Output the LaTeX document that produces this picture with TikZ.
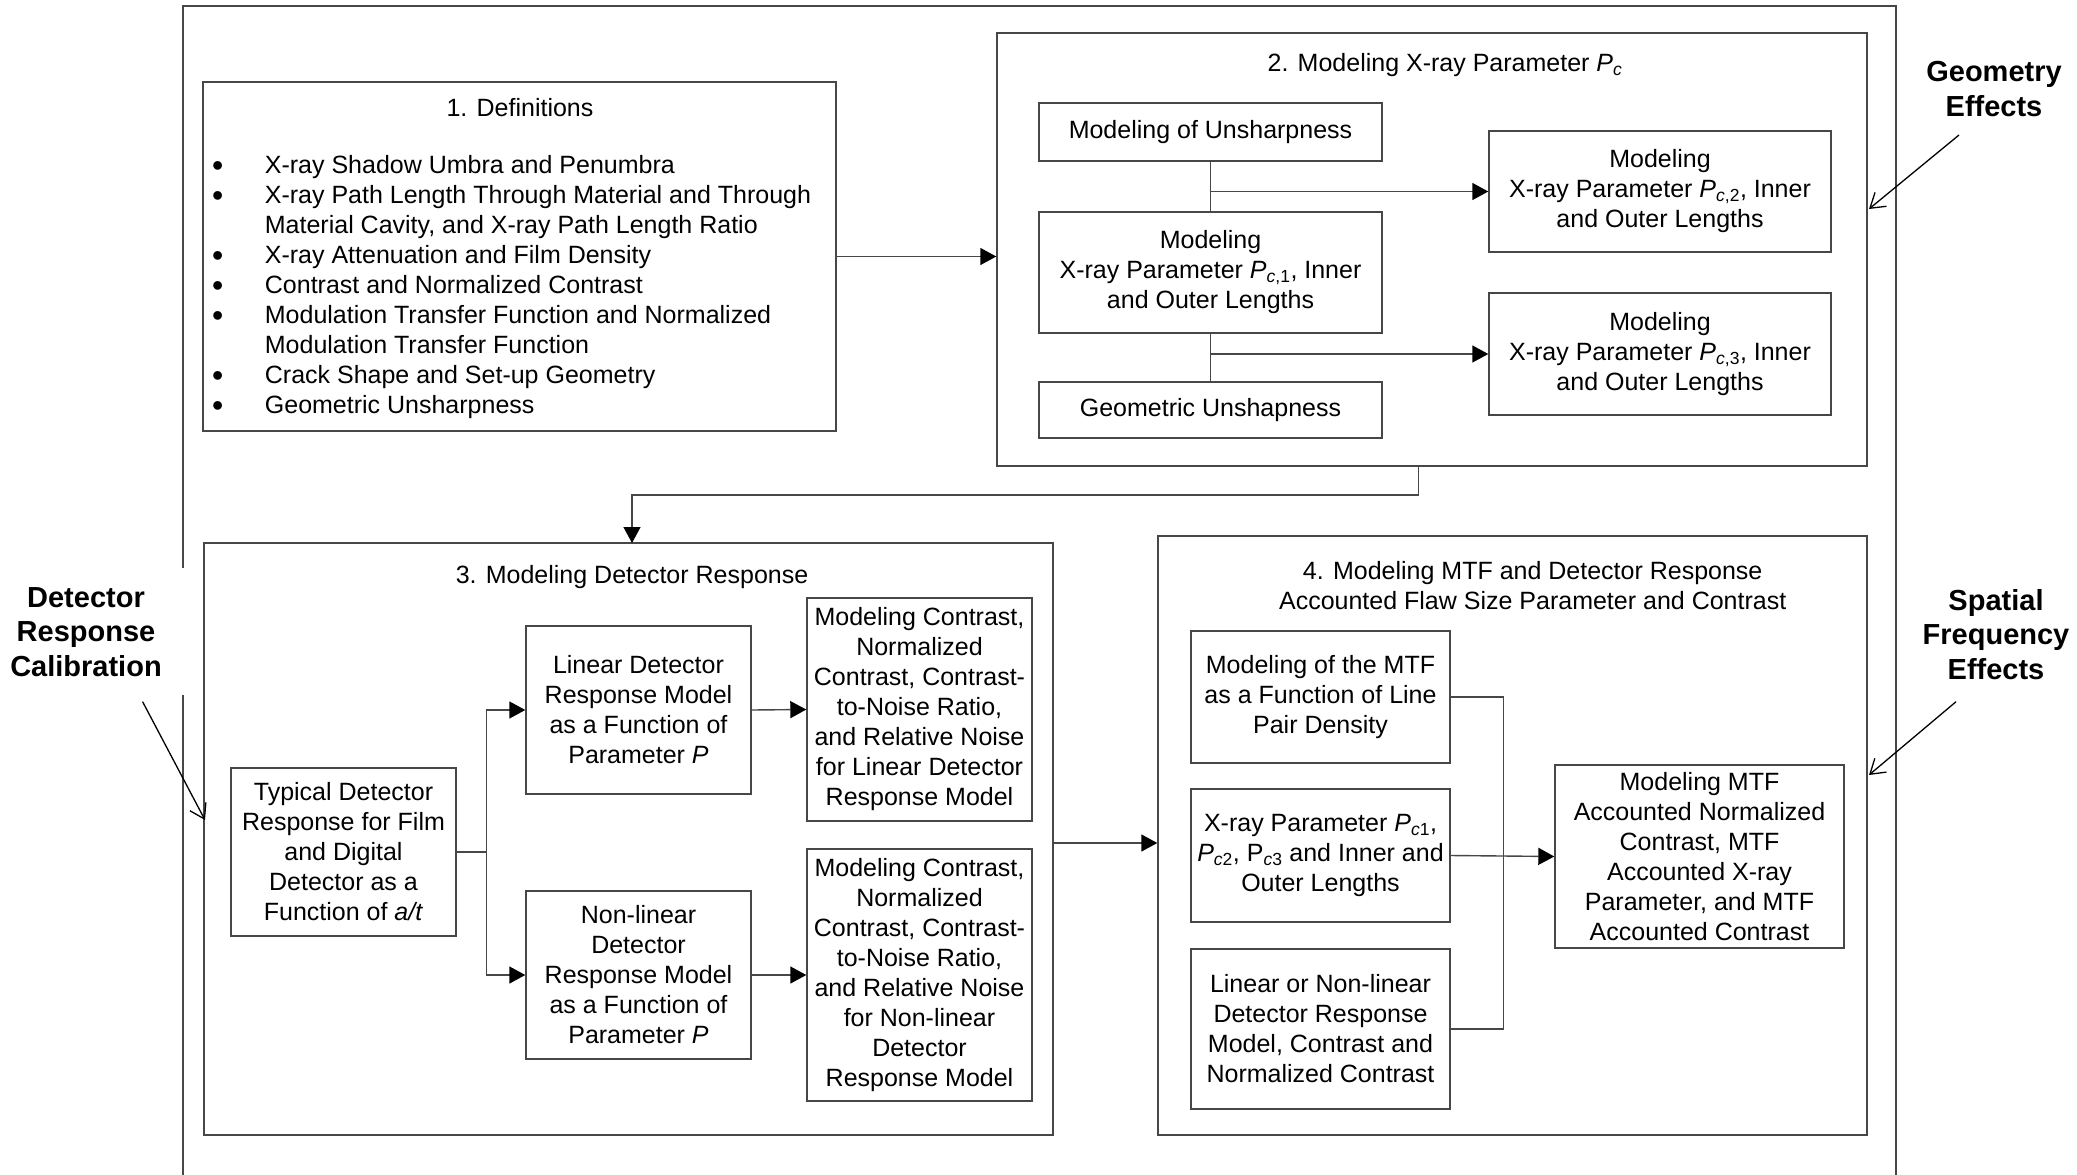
\documentclass[tikz,border=0pt]{standalone}
\usepackage{fontspec}
\setmainfont{Liberation Sans}
\usetikzlibrary{arrows.meta}
\newcommand{\bul}{\makebox[52.7pt][l]{\smash{\raisebox{-2.5pt}{\fontsize{32}{30}\selectfont •}}}}
\begin{document}
\begin{tikzpicture}[x=1pt,y=-1pt,
  ln/.style={line width=1.4pt, draw=black!72},
  box/.style={ln, rectangle, inner sep=0pt, align=center, font=\fontsize{25}{30}\selectfont},
  txt/.style={inner sep=0pt, align=center, font=\fontsize{25}{30}\selectfont},
  lab/.style={inner sep=0pt, align=center, font=\fontsize{29}{34.5}\selectfont\bfseries},
  arr/.style={ln, -{Triangle[length=16pt,width=17pt,color=black]}},
  thinarr/.style={line width=1.3pt, draw=black, -{Straight Barb[length=14pt,width=18pt]}}
]
\useasboundingbox (0,0) rectangle (2077,1175);
\fill[white] (0,0) rectangle (2077,1175);

% outer frame (open at the bottom, interrupted by the left label)
\draw[ln] (183,1175) -- (183,695);
\draw[ln] (183,568) -- (183,6) -- (1896,6) -- (1896,1175);

% ---------- 1. Definitions ----------
\node[box, minimum width=633pt, minimum height=349pt] (box1) at (519.5,256.5) {};
\node[txt] (title1) at (520,107.5) {1. Definitions};
\node[txt, align=left, anchor=west] (defs) at (212,287.5) {%
\bul X-ray Shadow Umbra and Penumbra\\
\bul X-ray Path Length Through Material and Through\\
\hspace*{52.7pt}Material Cavity, and X-ray Path Length Ratio\\
\bul X-ray Attenuation and Film Density\\
\bul Contrast and Normalized Contrast\\
\bul Modulation Transfer Function and Normalized\\
\hspace*{52.7pt}Modulation Transfer Function\\
\bul Crack Shape and Set-up Geometry\\
\bul Geometric Unsharpness};

% ---------- 2. Modeling X-ray Parameter Pc ----------
\node[box, minimum width=870pt, minimum height=433pt] (box2) at (1432,249.5) {};
\node[txt] (title2) at (1445,65) {2. Modeling X-ray Parameter \textit{P}\textsubscript{\textit{c}}};
\node[box, minimum width=343pt, minimum height=58pt] (unsharp) at (1210.5,132) {Modeling of Unsharpness};
\node[box, minimum width=343pt, minimum height=121pt] (pc1) at (1210.5,272.5) {Modeling\\X-ray Parameter \textit{P}\textsubscript{\textit{c},1}, Inner\\and Outer Lengths};
\node[box, minimum width=343pt, minimum height=56pt] (geo) at (1210.5,410) {Geometric Unshapness};
\node[box, minimum width=342pt, minimum height=121pt] (pc2) at (1660,191.5) {Modeling\\X-ray Parameter \textit{P}\textsubscript{\textit{c},2}, Inner\\and Outer Lengths};
\node[box, minimum width=342pt, minimum height=122pt] (pc3) at (1660,354) {Modeling\\X-ray Parameter \textit{P}\textsubscript{\textit{c},3}, Inner\\and Outer Lengths};

\draw[ln] (unsharp.south) -- (pc1.north);
\draw[ln] (pc1.south) -- (geo.north);
\draw[arr] (pc2.west -| unsharp.south) -- (pc2.west);
\draw[arr] (pc3.west -| pc1.south) -- (pc3.west);

% ---------- 3. Modeling Detector Response ----------
\node[box, minimum width=849pt, minimum height=592pt] (box3) at (628.5,839) {};
\node[txt] (title3) at (632,577) {3. Modeling Detector Response};
\node[box, minimum width=225pt, minimum height=168pt] (typ) at (343.5,852) {Typical Detector\\Response for Film\\and Digital\\Detector as a\\Function of \textit{a/t}};
\node[box, minimum width=225pt, minimum height=168pt] (lin) at (638.5,710) {Linear Detector\\Response Model\\as a Function of\\Parameter \textit{P}};
\node[box, minimum width=225pt, minimum height=168pt] (nonlin) at (638.5,975) {Non-linear\\Detector\\Response Model\\as a Function of\\Parameter \textit{P}};
\node[box, minimum width=225pt, minimum height=223pt] (mc1) at (919.5,709.5) {Modeling Contrast,\\Normalized\\Contrast, Contrast-\\to-Noise Ratio,\\and Relative Noise\\for Linear Detector\\Response Model};
\node[box, minimum width=225pt, minimum height=252pt] (mc2) at (919.5,975) {Modeling Contrast,\\Normalized\\Contrast, Contrast-\\to-Noise Ratio,\\and Relative Noise\\for Non-linear\\Detector\\Response Model};

\draw[arr] (typ.east) -- ++(30,0) |- (lin.west);
\draw[arr] (typ.east) -- ++(30,0) |- (nonlin.west);
\draw[arr] (lin.east) -- (mc1.west);
\draw[arr] (nonlin.east) -- (mc2.west);

% ---------- 4. Modeling MTF ----------
\node[box, minimum width=709pt, minimum height=599pt] (box4) at (1512.5,835.5) {};
\node[txt] (title4) at (1532.7,585.5) {4. Modeling MTF and Detector Response\\Accounted Flaw Size Parameter and Contrast};
\node[box, minimum width=259pt, minimum height=132pt] (mtf) at (1320.5,697) {Modeling of the MTF\\as a Function of Line\\Pair Density};
\node[box, minimum width=259pt, minimum height=133pt] (xr) at (1320.5,855.5) {X-ray Parameter \textit{P}\textsubscript{\textit{c}1},\\\textit{P}\textsubscript{\textit{c}2}, P\textsubscript{\textit{c}3} and Inner and\\Outer Lengths};
\node[box, minimum width=259pt, minimum height=160pt] (lnl) at (1320.5,1029) {Linear or Non-linear\\Detector Response\\Model, Contrast and\\Normalized Contrast};
\node[box, minimum width=289pt, minimum height=183pt] (fin) at (1699.5,856.5) {Modeling MTF\\Accounted Normalized\\Contrast, MTF\\Accounted X-ray\\Parameter, and MTF\\Accounted Contrast};

\draw[ln] (mtf.east) -- ++(53,0) |- (lnl.east);
\draw[arr] (xr.east) -- (fin.west);

% ---------- links between the stages ----------
\draw[arr] (box1.east) -- (box1.east -| box2.west);
\coordinate (b2out) at (1418.5,466);
\coordinate (b3in) at (632,543);
\draw[arr] (b2out) -- ++(0,29) -| (b3in);
\draw[arr] ([yshift=-4pt]box3.east) -- ([yshift=-4pt]box3.east -| box4.west);

% ---------- side labels ----------
\node[lab] (geff) at (1994,89) {Geometry\\Effects};
\coordinate (ge1) at (1959,135);
\coordinate (ge2) at (1869,209);
\draw[thinarr] (ge1) -- (ge2);

\node[lab] (sfe) at (1996,634.6) {Spatial\\Frequency\\Effects};
\coordinate (sf1) at (1956,701.7);
\coordinate (sf2) at (1869,775);
\draw[thinarr] (sf1) -- (sf2);

\node[lab] (drc) at (86,632) {Detector\\Response\\Calibration};
\coordinate (dr1) at (142.6,701.7);
\coordinate (dr2) at (205,820);
\draw[thinarr] (dr1) -- (dr2);
\end{tikzpicture}
\end{document}
